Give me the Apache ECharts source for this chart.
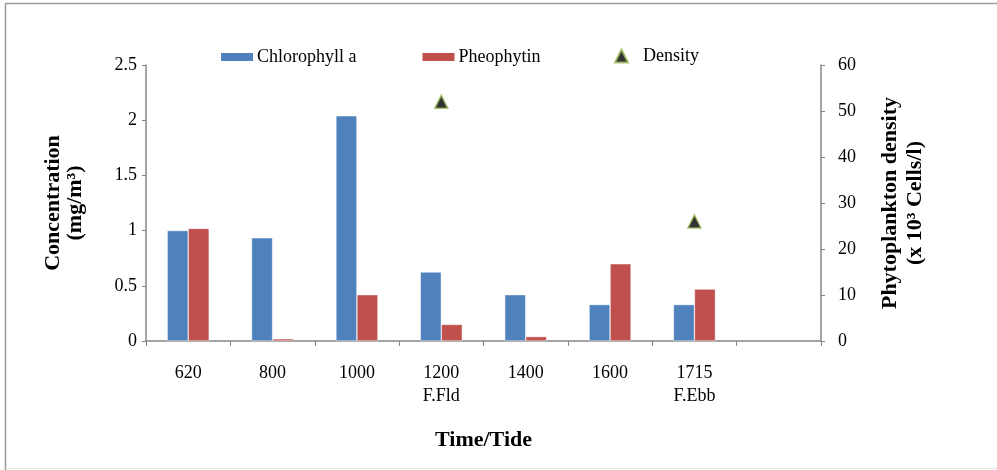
<!DOCTYPE html>
<html>
<head>
<meta charset="utf-8">
<script src="https://cdn.jsdelivr.net/npm/echarts@6/dist/echarts.min.js"></script>
<style>
  html, body { margin: 0; padding: 0; background: #fff; }
  #chart_1 { width: 997px; height: 470px; }
</style>
</head>
<body>
<div id="chart_1"></div>
<script>
// 数据
var times = ['620', '800', '1000', '1200', '1400', '1600', '1715', ''];
var tides = ['', '', '', 'F.Fld', '', '', 'F.Ebb', ''];
var chlorophyll = [1.0, 0.935, 2.04, 0.625, 0.42, 0.33, 0.33, '-'];
var pheophytin = [1.02, 0.02, 0.42, 0.15, 0.04, 0.70, 0.47, '-'];
var density = ['-', '-', '-', 52, '-', '-', 26, '-'];
var leftTicks = [0, 2.5, 0.5];
var rightTicks = [0, 60, 10];

var labels = times.map(function (t, i) {
    return tides[i] ? t + '\n' + tides[i] : t;
});

var font = 'Liberation Serif';
var axisColor = '#868686';

var myChart = echarts.init(document.getElementById('chart_1'));
myChart.setOption({
    animation: false,
    textStyle: { fontFamily: font },
    graphic: [
        { type: 'line', shape: { x1: 5.5, y1: 3, x2: 5.5, y2: 470 }, style: { stroke: '#9a9a9a', lineWidth: 1.5 } },
        { type: 'line', shape: { x1: 5, y1: 3.5, x2: 997, y2: 3.5 }, style: { stroke: '#9a9a9a', lineWidth: 1.5 } },
        { type: 'line', shape: { x1: 6, y1: 468.5, x2: 997, y2: 468.5 }, style: { stroke: '#e6e6e6', lineWidth: 1 } }
    ],
    legend: [{
        data: ['Chlorophyll a', 'Pheophytin'],
        icon: 'rect',
        left: 214, top: 43,
        itemWidth: 34, itemHeight: 10, itemGap: 64,
        textStyle: { fontFamily: font, fontSize: 18, color: '#000', padding: [0, 0, 0, -2] }
    }, {
        data: ['Density'],
        left: 609, top: 42,
        itemWidth: 13, itemHeight: 13,
        textStyle: { fontFamily: font, fontSize: 18, color: '#000', padding: [0, 0, 0, 10] }
    }],
    grid: { left: 146, right: 176, top: 65, bottom: 129 },
    xAxis: {
        type: 'category',
        data: labels,
        name: 'Time/Tide',
        nameLocation: 'middle',
        nameGap: 88,
        nameTextStyle: { fontFamily: font, fontSize: 22, fontWeight: 'bold', color: '#000' },
        axisLine: { lineStyle: { color: axisColor, width: 1.5 } },
        axisTick: { show: true, length: 5, lineStyle: { color: axisColor } },
        axisLabel: { margin: 21, fontSize: 18, lineHeight: 23, color: '#000', fontFamily: font },
        splitLine: { show: false }
    },
    yAxis: [{
        type: 'value',
        min: leftTicks[0], max: leftTicks[1], interval: leftTicks[2],
        name: 'Concentration\n(mg/m³)',
        nameLocation: 'middle',
        nameGap: 60,
        nameTextStyle: { fontFamily: font, fontSize: 22, fontWeight: 'bold', color: '#000', lineHeight: 22 },
        axisLine: { show: true, lineStyle: { color: axisColor, width: 1.5 } },
        axisTick: { show: true, length: 4, lineStyle: { color: axisColor } },
        axisLabel: { margin: 9, fontSize: 18, color: '#000', fontFamily: font },
        splitLine: { show: false }
    }, {
        type: 'value',
        position: 'right',
        min: rightTicks[0], max: rightTicks[1], interval: rightTicks[2],
        name: 'Phytoplankton density\n(x 10³ Cells/l)',
        nameLocation: 'middle',
        nameGap: 57,
        nameTextStyle: { fontFamily: font, fontSize: 22, fontWeight: 'bold', color: '#000', lineHeight: 25 },
        axisLine: { show: true, lineStyle: { color: axisColor, width: 1.5 } },
        axisTick: { show: true, length: 4, lineStyle: { color: axisColor } },
        axisLabel: { margin: 17, fontSize: 18, color: '#000', fontFamily: font },
        splitLine: { show: false }
    }],
    series: [{
        name: 'Chlorophyll a',
        type: 'bar',
        data: chlorophyll,
        barGap: '0%',
        barWidth: 21,
        itemStyle: { color: '#4f81bd', borderColor: '#ffffff', borderWidth: 0.5 }
    }, {
        name: 'Pheophytin',
        type: 'bar',
        data: pheophytin,
        barWidth: 21,
        itemStyle: { color: '#c0504d', borderColor: '#ffffff', borderWidth: 0.5 }
    }, {
        name: 'Density',
        type: 'scatter',
        yAxisIndex: 1,
        data: density,
        symbol: 'triangle',
        symbolSize: [13, 13],
        itemStyle: { color: '#000000', borderColor: '#9bbb59', borderWidth: 1.5 }
    }]
});
</script>
</body>
</html>
